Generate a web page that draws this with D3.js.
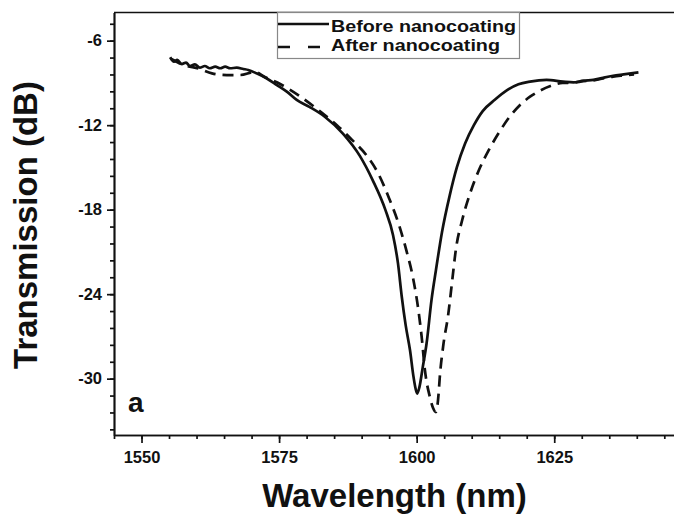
<!DOCTYPE html>
<html>
<head>
<meta charset="utf-8">
<script src="https://cdn.jsdelivr.net/npm/d3@7"></script>
<style>
  body { margin: 0; background: #fff; }
  svg { display: block; }
  .axis text { font-family: "Liberation Sans", Arial, sans-serif; font-weight: bold; font-size: 16.5px; fill: #111; }
  .axis path, .axis line { stroke: #111; stroke-width: 1.7px; }
  .title { font-family: "Liberation Sans", Arial, sans-serif; font-weight: bold; fill: #111; }
</style>
</head>
<body>
<div id="chart"></div>
<script>

// wavelength (nm) / transmission (dB)
var before_wl = [1555.2, 1555.9, 1556.5, 1557.3, 1558.1, 1558.8, 1559.7, 1560.6, 1561.5, 1562.4,
  1563.4, 1564.3, 1565.2, 1566.1, 1567.3, 1568.5, 1569.4, 1570.9, 1572.7, 1574.6, 1576.4, 1578.2,
  1580.5, 1583.3, 1586.6, 1589.7, 1592.0, 1594.3, 1595.7, 1596.6, 1597.3, 1598.0, 1598.8, 1599.4,
  1599.8, 1600.1, 1600.5, 1601.1, 1601.8, 1602.7, 1603.5, 1604.6, 1606.0, 1607.3, 1608.8, 1610.4,
  1612.0, 1614.2, 1616.5, 1618.5, 1620.6, 1623.6, 1626.6, 1628.5, 1630.3, 1632.1, 1633.9, 1635.7,
  1637.6, 1640.3];
var before_db = [-7.18, -7.49, -7.37, -7.66, -7.56, -7.80, -7.68, -7.92, -7.80, -7.96,
  -7.85, -7.96, -7.85, -7.96, -7.92, -8.01, -8.08, -8.32, -8.67, -9.15, -9.62, -10.21,
  -10.7, -11.4, -12.6, -14.2, -15.9, -18.0, -19.8, -21.8, -24.2, -26.2, -28.0, -29.8,
  -30.7, -31.06, -30.6, -29.2, -27.5, -24.4, -22.3, -19.6, -17.0, -15.0, -13.3, -12.0,
  -11.0, -10.2, -9.5, -9.1, -8.91, -8.79, -8.91, -8.96, -8.84, -8.79, -8.63, -8.49,
  -8.39, -8.25];

var after_wl = [1555.4, 1557.5, 1560.6, 1562.8, 1565.5, 1567.9, 1570.6, 1572.5, 1575.2, 1578.8,
  1582.9, 1585.5, 1588.3, 1590.8, 1593.0, 1595.0, 1596.9, 1598.2, 1599.3, 1600.3, 1600.9, 1601.5,
  1602.4, 1603.0, 1603.5, 1604.0, 1604.2, 1604.8, 1605.75, 1606.5, 1607.1, 1608.3, 1609.7, 1611.3,
  1613.1, 1615.0, 1616.9, 1618.7, 1620.6, 1622.4, 1624.3, 1626.5, 1628.5, 1630.3, 1632.1, 1633.9,
  1635.7, 1637.6, 1639.5];
var after_db = [-7.3, -7.7, -8.01, -8.32, -8.44, -8.44, -8.22, -8.6, -9.08, -9.95,
  -11.16, -12.0, -13.06, -14.1, -15.42, -17.2, -19.22, -21.0, -22.77, -25.1, -27.0, -29.4,
  -31.3, -32.1, -32.37, -31.0, -29.9, -27.75, -25.4, -22.9, -20.9, -18.7, -16.85, -15.2,
  -13.77, -12.5, -11.4, -10.6, -9.98, -9.55, -9.22, -9.0, -8.98, -8.88, -8.83, -8.68,
  -8.55, -8.47, -8.4];

var x_ticks = [1550, 1575, 1600, 1625];
var y_ticks = [-6, -12, -18, -24, -30];
var series_names = ["Before nanocoating", "After nanocoating"];

var width = 674, height = 517;
var margin = { top: 12.5, left: 114, bottom: 435 };

var svg = d3.select("#chart").append("svg")
  .attr("width", width)
  .attr("height", height);

var x = d3.scaleLinear().domain([1545, 1650]).range([margin.left, margin.left + 105 * 5.503]);
var y = d3.scaleLinear().domain([-34, -4]).range([margin.bottom, margin.top]);

var x_minor = d3.range(1545, 1651, 5);
var y_minor = d3.range(0, 25).map(function(i) { return -4.8 - 1.2 * i; });

// plain hyphen instead of d3's unicode minus
var fmt = function(d) { return String(d); };

// frame top
svg.append("line")
  .attr("x1", margin.left).attr("x2", width)
  .attr("y1", margin.top).attr("y2", margin.top)
  .attr("stroke", "#111").attr("stroke-width", 1.7);

// minor ticks
svg.append("g").attr("class", "axis")
  .attr("transform", "translate(0," + margin.bottom + ")")
  .call(d3.axisBottom(x).tickValues(x_minor).tickSize(4).tickSizeOuter(0).tickFormat(""));
svg.append("g").attr("class", "axis")
  .attr("transform", "translate(" + margin.left + ",0)")
  .call(d3.axisLeft(y).tickValues(y_minor).tickSize(4).tickSizeOuter(0).tickFormat(""));

// major ticks + labels
svg.append("g").attr("class", "axis")
  .attr("transform", "translate(0," + margin.bottom + ")")
  .call(d3.axisBottom(x).tickValues(x_ticks).tickSize(8).tickSizeOuter(0).tickPadding(8).tickFormat(fmt));
svg.append("g").attr("class", "axis")
  .attr("transform", "translate(" + margin.left + ",0)")
  .call(d3.axisLeft(y).tickValues(y_ticks).tickSize(7).tickSizeOuter(0).tickPadding(5).tickFormat(fmt));

// curves
var line = d3.line()
  .x(function(d) { return x(d[0]); })
  .y(function(d) { return y(d[1]); })
  .curve(d3.curveMonotoneX);

svg.append("path")
  .datum(d3.zip(before_wl, before_db))
  .attr("d", line)
  .attr("fill", "none")
  .attr("stroke", "#111")
  .attr("stroke-width", 2.7);

svg.append("path")
  .datum(d3.zip(after_wl, after_db))
  .attr("d", line)
  .attr("fill", "none")
  .attr("stroke", "#111")
  .attr("stroke-width", 2.7)
  .attr("stroke-dasharray", "11,7");

// legend
var legend = svg.append("g");
legend.append("rect")
  .attr("x", 277.5).attr("y", margin.top)
  .attr("width", 242).attr("height", 46)
  .attr("fill", "#fff").attr("stroke", "#888").attr("stroke-width", 1.2);
legend.append("line")
  .attr("x1", 278).attr("x2", 329).attr("y1", 24).attr("y2", 24)
  .attr("stroke", "#111").attr("stroke-width", 2.7);
legend.append("line")
  .attr("x1", 278).attr("x2", 323).attr("y1", 47).attr("y2", 47)
  .attr("stroke", "#111").attr("stroke-width", 2.7)
  .attr("stroke-dasharray", "12,18");
legend.selectAll(".lbl")
  .data(series_names)
  .enter().append("text")
  .attr("class", "title lbl")
  .attr("x", 331)
  .attr("y", function(d, i) { return 32 + i * 19; })
  .attr("textLength", function(d, i) { return i === 0 ? 185 : 169; })
  .attr("lengthAdjust", "spacingAndGlyphs")
  .style("font-size", "16.5px")
  .text(function(d) { return d; });

// titles
svg.append("text").attr("class", "title")
  .attr("x", 394.5).attr("y", 507)
  .style("font-size", "33px")
  .style("text-anchor", "middle")
  .text("Wavelength (nm)");

svg.append("text").attr("class", "title")
  .attr("transform", "translate(37,225) rotate(-90)")
  .style("font-size", "33px")
  .style("text-anchor", "middle")
  .text("Transmission (dB)");

svg.append("text").attr("class", "title")
  .attr("x", 128).attr("y", 411.5)
  .style("font-size", "28px")
  .text("a");

</script>
</body>
</html>
